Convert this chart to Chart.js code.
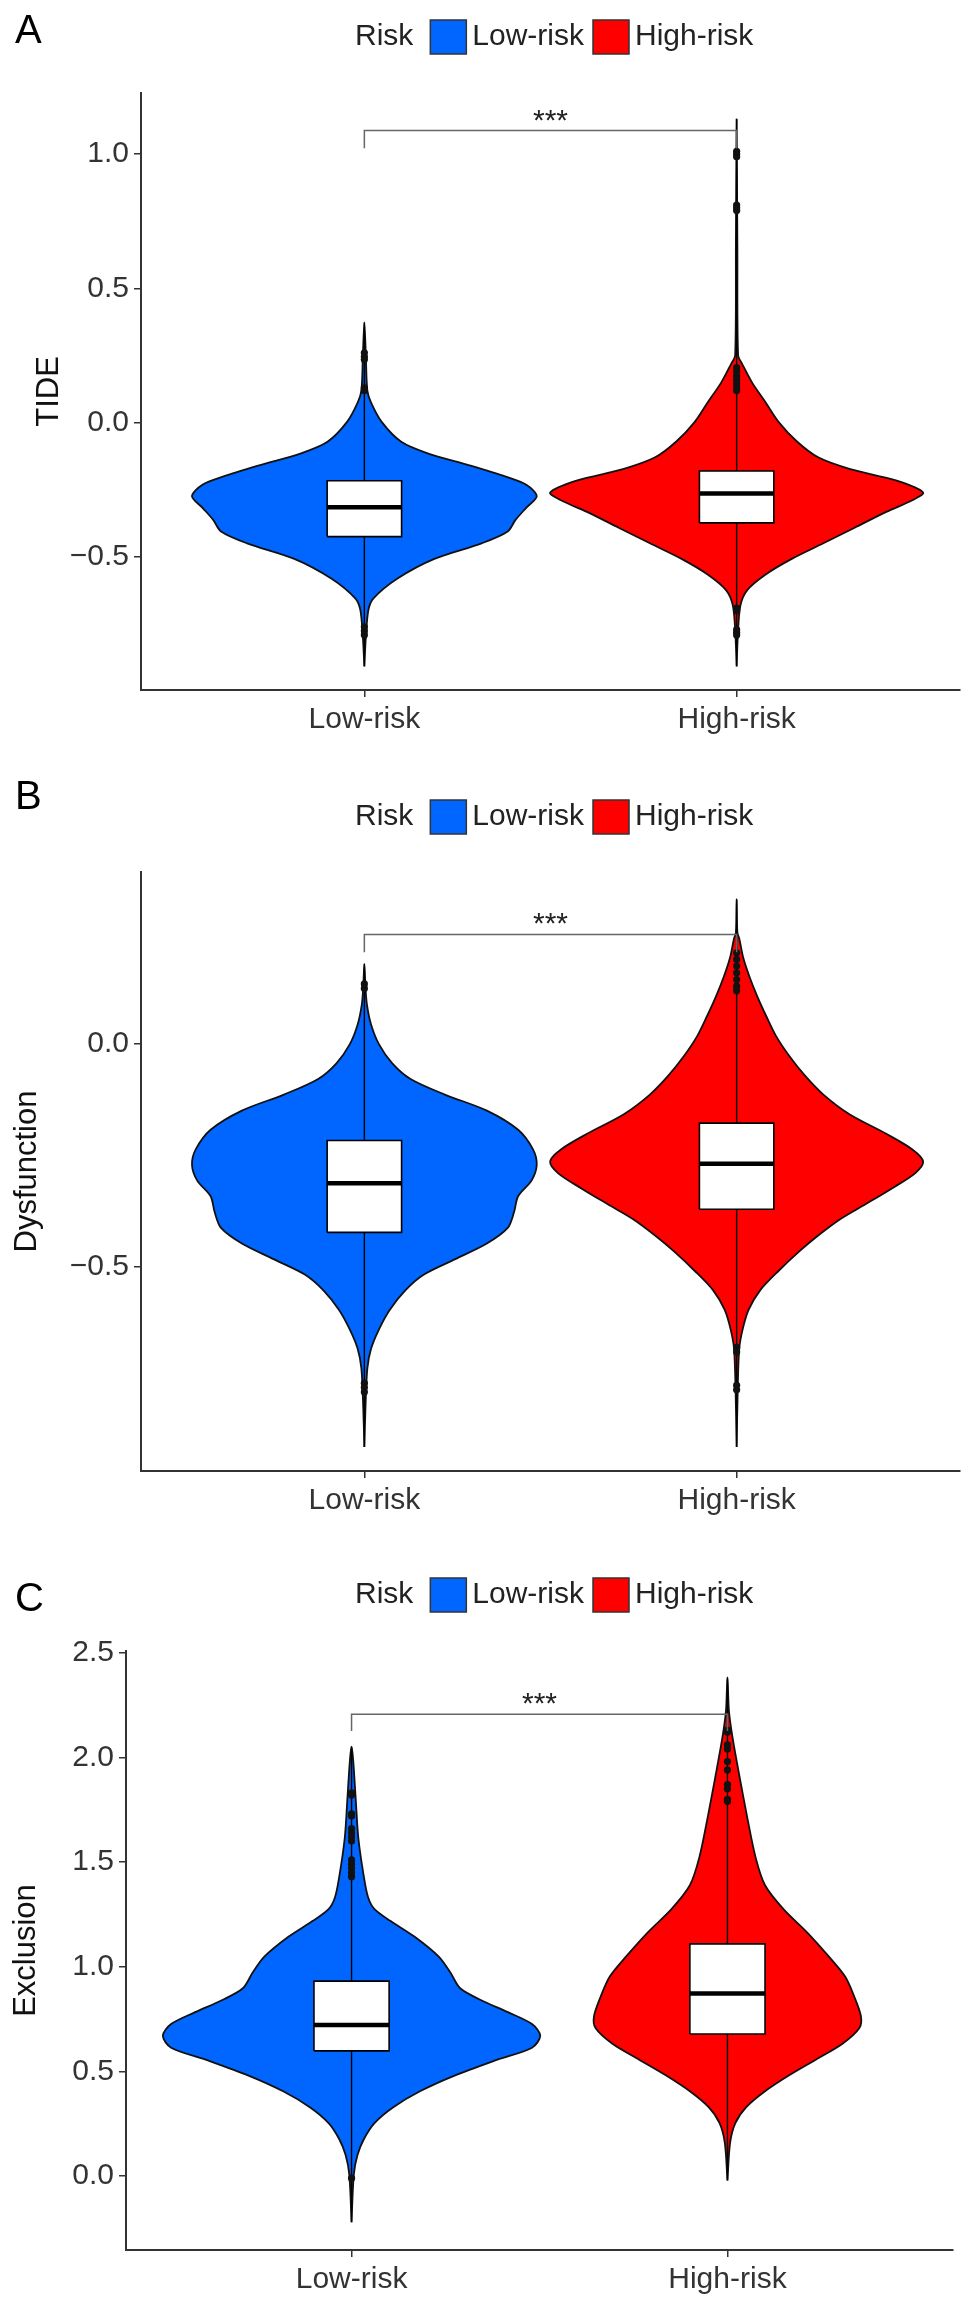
<!DOCTYPE html>
<html lang="en">
<head>
<meta charset="UTF-8">
<title>TIDE, Dysfunction and Exclusion by risk group</title>
<script src="https://cdn.jsdelivr.net/npm/chart.js@4.4.1/dist/chart.umd.min.js"></script>
<style>
    html, body { margin: 0; padding: 0; background: #fff; }
    body { width: 969px; height: 2312px; position: relative; overflow: hidden; }
    canvas { position: absolute; left: 0; }
</style>
</head>
<body>
<canvas id="panelA" width="969" height="770" style="top:0px"></canvas>
<canvas id="panelB" width="969" height="770" style="top:770px"></canvas>
<canvas id="panelC" width="969" height="772" style="top:1540px"></canvas>
<script>
    const groups = ['Low-risk', 'High-risk'];
    const groupColors = ['#0066FF', '#FF0000'];
    const legendTitle = 'Risk';
    const sigLabel = '***';

    // A: TIDE  (violin outline: value, half width in group units)
    const tideLowY  = [-0.907, -0.798, -0.696, -0.653, -0.580, -0.507, -0.449, -0.405, -0.362, -0.318, -0.274, -0.231, -0.201, -0.158, -0.114, -0.071, 0.002, 0.075, 0.119, 0.250, 0.373];
    const tideLowW  = [0, 0.004, 0.011, 0.025, 0.089, 0.188, 0.315, 0.385, 0.406, 0.434, 0.463, 0.435, 0.38, 0.28, 0.17, 0.099, 0.047, 0.018, 0.008, 0.004, 0];
    const tideHighY = [-0.907, -0.798, -0.682, -0.624, -0.565, -0.507, -0.449, -0.391, -0.332, -0.289, -0.260, -0.216, -0.172, -0.129, -0.070, 0.002, 0.075, 0.148, 0.221, 0.250, 0.657, 1.130];
    const tideHighW = [0, 0.003, 0.010, 0.028, 0.078, 0.148, 0.233, 0.317, 0.402, 0.472, 0.501, 0.430, 0.303, 0.219, 0.162, 0.113, 0.078, 0.042, 0.014, 0.004, 0.002, 0];
    const tideBoxLow  = [-0.424, -0.315, -0.216];   // q1, median, q3
    const tideBoxHigh = [-0.373, -0.264, -0.180];
    const tideRangeLow  = [-0.907, 0.373];
    const tideRangeHigh = [-0.907, 1.130];
    const tideOutLow  = [0.26, 0.245, 0.235, 0.13, 0.12, -0.76, -0.775, -0.79];
    const tideOutHigh = [1.01, 1.0, 0.99, 0.81, 0.80, 0.79, 0.205, 0.19, 0.175, 0.16, 0.145, 0.13, 0.12, -0.69, -0.70, -0.77, -0.78, -0.79];
    const tideTicks = [-0.5, 0.0, 0.5, 1.0];
    const tideTickLabels = ['\u22120.5', '0.0', '0.5', '1.0'];
    const tideLimits = [-0.995, 1.227];
    const tideBracket = [1.087, 0.066];   // height, tip length

    // B: Dysfunction
    const dysLowY  = [-0.903, -0.815, -0.727, -0.683, -0.640, -0.596, -0.552, -0.517, -0.482, -0.447, -0.412, -0.377, -0.341, -0.306, -0.271, -0.236, -0.192, -0.149, -0.113, -0.078, -0.043, 0.000, 0.044, 0.088, 0.128, 0.180];
    const dysLowW  = [0, 0.003, 0.008, 0.018, 0.039, 0.068, 0.110, 0.159, 0.244, 0.329, 0.385, 0.402, 0.413, 0.449, 0.463, 0.453, 0.413, 0.329, 0.216, 0.124, 0.075, 0.039, 0.018, 0.007, 0.003, 0];
    const dysHighY = [-0.903, -0.771, -0.683, -0.640, -0.596, -0.552, -0.508, -0.464, -0.429, -0.394, -0.359, -0.324, -0.289, -0.263, -0.236, -0.201, -0.157, -0.113, -0.070, -0.026, 0.018, 0.062, 0.106, 0.150, 0.193, 0.237, 0.250, 0.325];
    const dysHighW = [0, 0.003, 0.007, 0.016, 0.032, 0.063, 0.113, 0.169, 0.219, 0.275, 0.346, 0.416, 0.480, 0.501, 0.472, 0.402, 0.303, 0.233, 0.183, 0.141, 0.106, 0.080, 0.056, 0.035, 0.018, 0.007, 0.002, 0];
    const dysBoxLow  = [-0.422, -0.312, -0.216];
    const dysBoxHigh = [-0.370, -0.268, -0.177];
    const dysRangeLow  = [-0.903, 0.180];
    const dysRangeHigh = [-0.903, 0.325];
    const dysOutLow  = [0.135, 0.125, -0.76, -0.77, -0.78];
    const dysOutHigh = [0.205, 0.19, 0.175, 0.16, 0.145, 0.13, 0.12, -0.68, -0.69, -0.765, -0.775];
    const dysTicks = [-0.5, 0.0];
    const dysTickLabels = ['\u22120.5', '0.0'];
    const dysLimits = [-0.957, 0.386];
    const dysBracket = [0.246, 0.040];

    // C: Exclusion
    const excLowY  = [-0.220, 0.007, 0.102, 0.177, 0.253, 0.329, 0.405, 0.480, 0.556, 0.613, 0.670, 0.726, 0.783, 0.840, 0.897, 0.972, 1.048, 1.143, 1.218, 1.275, 1.332, 1.427, 1.616, 1.805, 1.994, 2.051];
    const excLowW  = [0, 0.006, 0.016, 0.033, 0.061, 0.111, 0.182, 0.274, 0.388, 0.480, 0.502, 0.480, 0.416, 0.345, 0.289, 0.263, 0.232, 0.168, 0.104, 0.061, 0.044, 0.033, 0.018, 0.011, 0.004, 0];
    const excHighY = [-0.021, 0.159, 0.253, 0.329, 0.405, 0.480, 0.556, 0.632, 0.707, 0.764, 0.859, 0.953, 1.048, 1.162, 1.275, 1.389, 1.521, 1.710, 1.900, 2.089, 2.221, 2.382];
    const excHighW = [0, 0.007, 0.021, 0.050, 0.100, 0.163, 0.235, 0.306, 0.351, 0.355, 0.337, 0.313, 0.270, 0.213, 0.149, 0.100, 0.075, 0.053, 0.033, 0.014, 0.004, 0];
    const excBoxLow  = [0.598, 0.722, 0.931];
    const excBoxHigh = [0.679, 0.872, 1.109];
    const excRangeLow  = [-0.220, 2.051];
    const excRangeHigh = [-0.021, 2.382];
    const excOutLow  = [1.83, 1.82, 1.73, 1.72, 1.66, 1.64, 1.62, 1.60, 1.51, 1.49, 1.47, 1.45, 1.43, -0.01];
    const excOutHigh = [2.13, 2.12, 2.06, 2.04, 1.98, 1.94, 1.87, 1.85, 1.80, 1.79];
    const excTicks = [0.0, 0.5, 1.0, 1.5, 2.0, 2.5];
    const excTickLabels = ['0.0', '0.5', '1.0', '1.5', '2.0', '2.5'];
    const excLimits = [-0.353, 2.508];
    const excBracket = [2.206, 0.080];

    const FONT = '"Liberation Sans", Arial, sans-serif';
    const BOX_HALF = 0.1;

    function violinPoints(center, ys, ws) {
        const right = ys.map((y, i) => ({ x: center + ws[i], y: y }));
        const left = ys.map((y, i) => ({ x: center - ws[i], y: y })).reverse();
        return right.concat(left.slice(1));
    }

    function groupDatasets(center, color, ys, ws, box, range, outliers) {
        const [q1, med, q3] = box;
        return [
            {
                type: 'line', data: violinPoints(center, ys, ws),
                backgroundColor: color, borderColor: '#111', borderWidth: 1.8,
                fill: 'shape', tension: 0.3, pointRadius: 0, borderJoinStyle: 'round', order: 6
            },
            {
                type: 'line', data: [{ x: center, y: range[0] }, { x: center, y: range[1] }],
                borderColor: '#000', borderWidth: 1.4, pointRadius: 0, fill: false, order: 5
            },
            {
                type: 'scatter', data: outliers.map(v => ({ x: center, y: v })),
                pointRadius: 3.6, pointBackgroundColor: '#111', pointBorderWidth: 0, order: 4
            },
            {
                type: 'line',
                data: [
                    { x: center - BOX_HALF, y: q1 }, { x: center + BOX_HALF, y: q1 },
                    { x: center + BOX_HALF, y: q3 }, { x: center - BOX_HALF, y: q3 },
                    { x: center - BOX_HALF, y: q1 }
                ],
                backgroundColor: '#fff', borderColor: '#000', borderWidth: 1.6,
                fill: 'shape', tension: 0, pointRadius: 0, order: 3
            },
            {
                type: 'line', data: [{ x: center - BOX_HALF, y: med }, { x: center + BOX_HALF, y: med }],
                borderColor: '#000', borderWidth: 4.5, pointRadius: 0, fill: false, order: 2
            }
        ];
    }

    function bracketDataset(bracket) {
        const [h, tip] = bracket;
        return {
            type: 'line',
            data: [{ x: 1, y: h - tip }, { x: 1, y: h }, { x: 2, y: h }, { x: 2, y: h - tip }],
            borderColor: '#666', borderWidth: 1.5, pointRadius: 0, fill: false, tension: 0, order: 1
        };
    }

    const decorPlugin = {
        id: 'decor',
        afterDraw(chart, args, opts) {
            const ctx = chart.ctx;
            ctx.save();
            ctx.textAlign = 'left';
            ctx.textBaseline = 'middle';
            ctx.fillStyle = '#000';
            ctx.font = '40px ' + FONT;
            ctx.fillText(opts.letter, opts.letterX, opts.letterY);

            ctx.font = '30px ' + FONT;
            let x = opts.legendX;
            const y = opts.legendY;
            ctx.fillStyle = '#222';
            ctx.fillText(legendTitle, x, y);
            x += ctx.measureText(legendTitle).width + 17;
            groups.forEach((g, i) => {
                ctx.fillStyle = groupColors[i];
                ctx.fillRect(x, y - 17, 36, 34);
                ctx.strokeStyle = '#333';
                ctx.lineWidth = 1.5;
                ctx.strokeRect(x, y - 17, 36, 34);
                x += 36 + 6;
                ctx.fillStyle = '#222';
                ctx.fillText(g, x, y);
                x += ctx.measureText(g).width + 9;
            });

            const xs = chart.scales.x, ys = chart.scales.y;
            ctx.textAlign = 'center';
            ctx.textBaseline = 'alphabetic';
            ctx.fillStyle = '#222';
            ctx.font = '30px ' + FONT;
            ctx.fillText(sigLabel, xs.getPixelForValue(1.5), ys.getPixelForValue(opts.sigY) - 1);
            ctx.restore();
        }
    };

    function makePanel(p) {
        const canvas = document.getElementById(p.id);
        const W = canvas.width, H = canvas.height;
        const datasets = []
            .concat(groupDatasets(1, groupColors[0], p.lowY, p.lowW, p.boxLow, p.rangeLow, p.outLow))
            .concat(groupDatasets(2, groupColors[1], p.highY, p.highW, p.boxHigh, p.rangeHigh, p.outHigh))
            .concat([bracketDataset(p.bracket)]);

        const axisGrid = { drawOnChartArea: false, drawTicks: true, tickLength: 7, color: '#333', lineWidth: 1.5 };
        const axisBorder = { display: true, color: '#333', width: 2 };

        return new Chart(canvas.getContext('2d'), {
            type: 'line',
            data: { datasets: datasets },
            plugins: [decorPlugin],
            options: {
                responsive: false,
                animation: false,
                devicePixelRatio: 1,
                layout: { padding: { top: p.plot.top, right: W - p.plot.right, left: 0, bottom: 0 } },
                plugins: {
                    legend: { display: false },
                    tooltip: { enabled: false },
                    decor: {
                        letter: p.letter, letterX: 15, letterY: p.letterY,
                        legendX: 355, legendY: p.legendY, sigY: p.bracket[0]
                    }
                },
                scales: {
                    x: {
                        type: 'linear', min: 0.4, max: 2.6,
                        afterBuildTicks: s => { s.ticks = groups.map((g, i) => ({ value: i + 1 })); },
                        afterFit: s => { s.height = H - p.plot.bottom; },
                        ticks: {
                            callback: (v, i) => groups[i],
                            font: { family: FONT, size: 30 }, color: '#333', padding: 5,
                            autoSkip: false, maxRotation: 0
                        },
                        grid: axisGrid,
                        border: axisBorder
                    },
                    y: {
                        type: 'linear', min: p.limits[0], max: p.limits[1],
                        afterBuildTicks: s => { s.ticks = p.ticks.map(v => ({ value: v })); },
                        afterFit: s => { s.width = p.plot.left; },
                        ticks: {
                            callback: (v, i) => p.tickLabels[i],
                            font: { family: FONT, size: 30 }, color: '#333', padding: 5
                        },
                        grid: axisGrid,
                        border: axisBorder,
                        title: {
                            display: true, text: p.title, color: '#111',
                            font: { family: FONT, size: 31 },
                            padding: { top: p.titlePad, bottom: 0 }
                        }
                    }
                }
            }
        });
    }

    makePanel({
        id: 'panelA', letter: 'A', title: 'TIDE', letterY: 32, legendY: 37, titlePad: 31,
        plot: { left: 141, right: 960, top: 93, bottom: 690 },
        lowY: tideLowY, lowW: tideLowW, highY: tideHighY, highW: tideHighW,
        boxLow: tideBoxLow, boxHigh: tideBoxHigh, rangeLow: tideRangeLow, rangeHigh: tideRangeHigh,
        outLow: tideOutLow, outHigh: tideOutHigh, ticks: tideTicks, tickLabels: tideTickLabels,
        limits: tideLimits, bracket: tideBracket
    });
    makePanel({
        id: 'panelB', letter: 'B', title: 'Dysfunction', letterY: 28, legendY: 47, titlePad: 9,
        plot: { left: 141, right: 960, top: 102, bottom: 701 },
        lowY: dysLowY, lowW: dysLowW, highY: dysHighY, highW: dysHighW,
        boxLow: dysBoxLow, boxHigh: dysBoxHigh, rangeLow: dysRangeLow, rangeHigh: dysRangeHigh,
        outLow: dysOutLow, outHigh: dysOutHigh, ticks: dysTicks, tickLabels: dysTickLabels,
        limits: dysLimits, bracket: dysBracket
    });
    makePanel({
        id: 'panelC', letter: 'C', title: 'Exclusion', letterY: 60, legendY: 55, titlePad: 8,
        plot: { left: 126, right: 953, top: 111, bottom: 710 },
        lowY: excLowY, lowW: excLowW, highY: excHighY, highW: excHighW,
        boxLow: excBoxLow, boxHigh: excBoxHigh, rangeLow: excRangeLow, rangeHigh: excRangeHigh,
        outLow: excOutLow, outHigh: excOutHigh, ticks: excTicks, tickLabels: excTickLabels,
        limits: excLimits, bracket: excBracket
    });
</script>
</body>
</html>
